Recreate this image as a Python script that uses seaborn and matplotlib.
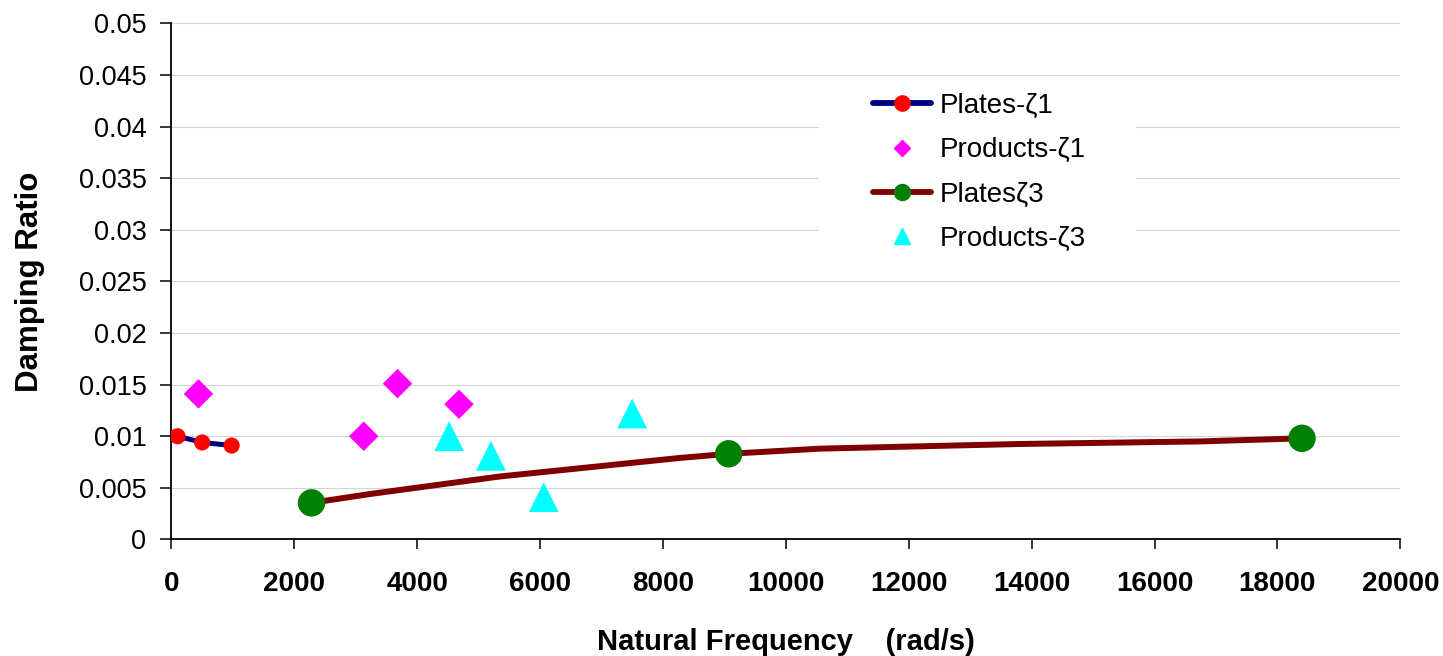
import numpy as np
import pandas as pd
import matplotlib.pyplot as plt
from matplotlib.lines import Line2D
from matplotlib.patches import Rectangle
import seaborn as sns

# values
plates1_freq = [100, 500, 980]
plates1_zeta = [0.0100, 0.0094, 0.0091]

products1_freq = [440, 3130, 3680, 4680]
products1_zeta = [0.0141, 0.0100, 0.0151, 0.0131]

plates3_freq = [2280, 9070, 18400]
plates3_zeta = [0.00355, 0.0083, 0.0098]

# the drawn (smoothed) line of Plates zeta3
plates3_curve_freq = [2280, 3225, 5340, 6645, 8275, 9070, 10555, 13810, 16745, 18400]
plates3_curve_zeta = [0.00355, 0.0044, 0.0061, 0.0069, 0.0079, 0.0083, 0.0088, 0.00925, 0.0095, 0.0098]

products3_freq = [4520, 5200, 6060, 7500]
products3_zeta = [0.0100, 0.0081, 0.0041, 0.0122]

x_ticks = list(range(0, 20001, 2000))
y_ticks = [i * 0.005 for i in range(11)]

sns.set_style('ticks', {'text.color': 'black', 'axes.labelcolor': 'black',
                        'xtick.color': 'black', 'ytick.color': 'black',
                        'axes.edgecolor': 'black'})
plt.rcParams['font.family'] = ['Liberation Sans', 'DejaVu Sans']

fig = plt.figure(figsize=(14.43, 6.56), dpi=100)
ax = fig.add_axes([0.1188, 0.1776, 0.8516, 0.7869])

for y in y_ticks[1:]:
    ax.axhline(y, color='#d4d4d4', lw=0.8, zorder=0)

# white area behind the legend (hides the gridlines there)
ax.add_patch(Rectangle((0.527, 0.537), 0.258, 0.335, transform=ax.transAxes,
                       facecolor='white', edgecolor='none', zorder=1))

sns.lineplot(x=plates1_freq, y=plates1_zeta, color='#000080', lw=3.6, ax=ax, zorder=2)
sns.scatterplot(x=plates1_freq, y=plates1_zeta, color='#ff0000', marker='o', s=135,
                edgecolor='none', ax=ax, zorder=3)

sns.scatterplot(x=products1_freq, y=products1_zeta, color='#ff00ff', marker='D', s=225,
                edgecolor='none', ax=ax, zorder=3)

sns.lineplot(x=plates3_curve_freq, y=plates3_curve_zeta, color='#800000', lw=4.3, ax=ax, zorder=2)
sns.scatterplot(x=plates3_freq, y=plates3_zeta, color='#008000', marker='o', s=390,
                edgecolor='none', ax=ax, zorder=3)

sns.scatterplot(x=products3_freq, y=products3_zeta, color='#00ffff', marker='^', s=460,
                edgecolor='none', ax=ax, zorder=3)

ax.set_xlim(0, 20000)
ax.set_ylim(0, 0.05)
ax.set_xticks(x_ticks)
ax.set_xticklabels([str(v) for v in x_ticks], fontsize=20, fontweight='bold')
ax.set_yticks(y_ticks)
ax.set_yticklabels([f'{v:g}' for v in y_ticks], fontsize=19.5)
ax.tick_params(axis='x', length=7, width=1.1, pad=16)
ax.tick_params(axis='y', length=8, width=1.1, pad=10)
sns.despine(ax=ax)
for s in ['left', 'bottom']:
    ax.spines[s].set_linewidth(1.3)

ax.set_xlabel('Natural Frequency    (rad/s)', fontsize=21, fontweight='bold', labelpad=22)
ax.set_ylabel('Damping Ratio', fontsize=22.5, fontweight='bold')
ax.yaxis.set_label_coords(-0.103, 0.5)

handles = [
    Line2D([], [], color='#000080', lw=4.2, marker='o', mfc='#ff0000', mec='#ff0000', ms=11),
    Line2D([], [], ls='none', marker='D', mfc='#ff00ff', mec='#ff00ff', ms=8.5),
    Line2D([], [], color='#800000', lw=4.2, marker='o', mfc='#008000', mec='#008000', ms=11.5),
    Line2D([], [], ls='none', marker='^', mfc='#00ffff', mec='#00ffff', ms=12),
]
labels = ['Plates-ζ1', 'Products-ζ1', 'Platesζ3', 'Products-ζ3']
leg = ax.legend(handles, labels, loc='upper left', bbox_to_anchor=(0.571, 0.865),
                fontsize=20, frameon=False, handlelength=2.1, handletextpad=0.3,
                labelspacing=0.66, borderpad=0, borderaxespad=0)
leg.set_zorder(5)

fig.savefig('out.png', dpi=100)
